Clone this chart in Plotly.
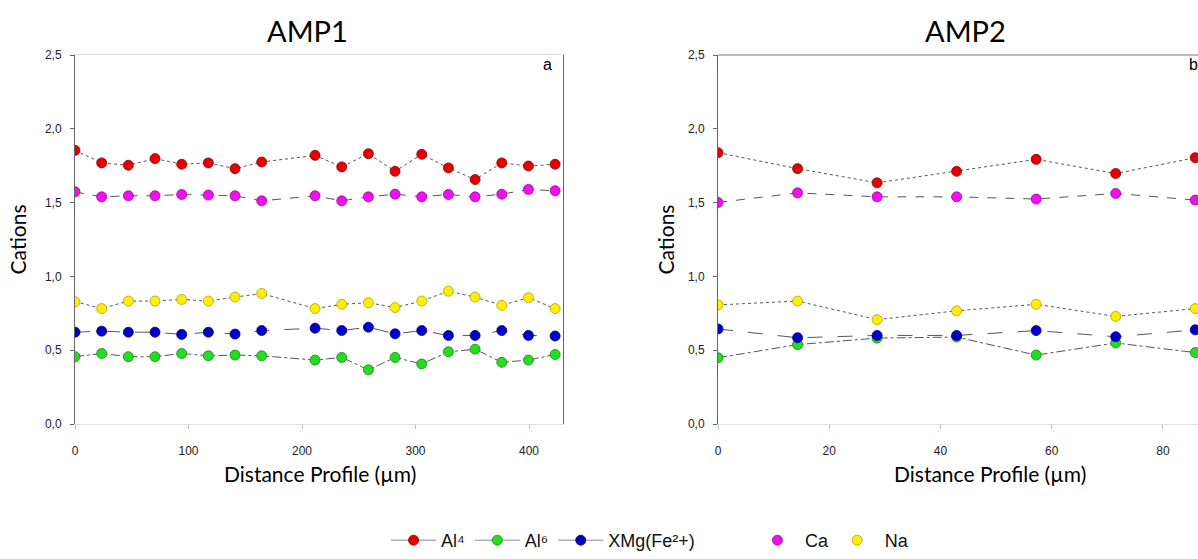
import plotly.graph_objects as go

# AMP1 profile: distance along the traverse (µm) and cation values
amp1_dist = [0, 23.5, 47, 70.5, 94, 117.5, 141, 164.5, 211.5, 235, 258.5, 282,
             305.5, 329, 352.5, 376, 399.5, 423]
amp1_al4 = [1.854, 1.769, 1.753, 1.798, 1.760, 1.769, 1.730, 1.775, 1.820, 1.742,
            1.831, 1.712, 1.827, 1.735, 1.656, 1.769, 1.748, 1.760]
amp1_al6 = [0.456, 0.478, 0.456, 0.456, 0.478, 0.462, 0.467, 0.462, 0.433, 0.451,
            0.367, 0.451, 0.407, 0.489, 0.507, 0.418, 0.433, 0.471]
amp1_xmg = [0.622, 0.629, 0.622, 0.622, 0.607, 0.622, 0.609, 0.633, 0.649, 0.633,
            0.656, 0.611, 0.633, 0.600, 0.600, 0.633, 0.600, 0.596]
amp1_ca = [1.573, 1.539, 1.546, 1.546, 1.555, 1.551, 1.546, 1.512, 1.546, 1.512,
           1.539, 1.557, 1.539, 1.555, 1.539, 1.557, 1.589, 1.580]
amp1_na = [0.829, 0.782, 0.833, 0.833, 0.844, 0.833, 0.860, 0.884, 0.782, 0.811,
           0.822, 0.789, 0.833, 0.900, 0.860, 0.804, 0.856, 0.782]

# AMP2 profile
amp2_dist = [0, 14.3, 28.6, 42.9, 57.2, 71.5, 85.8]
amp2_al4 = [1.838, 1.730, 1.634, 1.712, 1.793, 1.697, 1.804]
amp2_al6 = [0.449, 0.538, 0.582, 0.589, 0.467, 0.549, 0.484]
amp2_xmg = [0.644, 0.584, 0.600, 0.600, 0.633, 0.591, 0.638]
amp2_ca = [1.501, 1.566, 1.539, 1.539, 1.524, 1.562, 1.517]
amp2_na = [0.807, 0.833, 0.707, 0.767, 0.811, 0.729, 0.782]

series_names = ["Al⁴", "Al⁶", "XMg(Fe²+)", "Ca", "Na"]
fill_colors = ["#e60000", "#22dd22", "#0000cc", "#ee11ee", "#ffee00"]
edge_colors = ["#8a0000", "#118811", "#00006e", "#a000a0", "#b0a000"]
dash_styles = ["dot", "dashdot", "longdash", "dash", "dot"]
legend_lines = [True, True, True, False, False]
legend_groups = ["legend", "legend", "legend", "legend3", "legend2"]

y_ticks = [0.0, 0.5, 1.0, 1.5, 2.0, 2.5]
amp1_xticks = [0, 100, 200, 300, 400]
amp2_xticks = [0, 20, 40, 60, 80]

tick_font = dict(family="Liberation Sans, Arial", size=12, color="#222")
label_font = dict(family="Lato, Open Sans", size=21, color="#000")
title_font = dict(family="Lato, Open Sans", size=29, color="#000")
letter_font = dict(family="Liberation Sans, Arial", size=16, color="#000")
legend_font = dict(family="Liberation Sans, Arial", size=18, color="#111")

fig = go.Figure()

panels = [
    ("x", "y", amp1_dist, [amp1_al4, amp1_al6, amp1_xmg, amp1_ca, amp1_na], True),
    ("x2", "y2", amp2_dist, [amp2_al4, amp2_al6, amp2_xmg, amp2_ca, amp2_na], False),
]

for xa, ya, dist, values, show_leg in panels:
    for i, vals in enumerate(values):
        marker = dict(size=10, color=fill_colors[i],
                      line=dict(color=edge_colors[i], width=0.8))
        # connecting line
        fig.add_trace(go.Scatter(
            x=dist, y=vals, xaxis=xa, yaxis=ya, mode="lines",
            line=dict(color="#555555", width=1, dash=dash_styles[i]),
            showlegend=False, hoverinfo="skip"))
        # legend sample with a solid line for the first three series
        if show_leg and legend_lines[i]:
            fig.add_trace(go.Scatter(
                x=[None], y=[None], xaxis=xa, yaxis=ya, mode="lines+markers",
                name=series_names[i], legend=legend_groups[i],
                line=dict(color="#888888", width=1), marker=marker,
                showlegend=True))
        fig.add_trace(go.Scatter(
            x=dist, y=vals, xaxis=xa, yaxis=ya, mode="markers",
            name=series_names[i], legend=legend_groups[i], marker=marker,
            showlegend=show_leg and not legend_lines[i]))

axis_common = dict(showgrid=False, zeroline=False, ticks="outside", ticklen=4,
                   tickfont=tick_font)
legend_common = dict(orientation="h", xanchor="left", y=-0.317, yanchor="middle",
                     font=legend_font, itemwidth=45, bgcolor="rgba(0,0,0,0)")

fig.update_layout(
    width=1198, height=559,
    margin=dict(l=75, r=0, t=55, b=132),
    plot_bgcolor="white", paper_bgcolor="white",
    separators=",.",
    xaxis=dict(domain=[0, 0.4346], range=[0, 430], tickvals=amp1_xticks,
               showline=True, mirror=True, linecolor="#dddddd", linewidth=1,
               tickcolor="#bbbbbb", anchor="y", ticklabelstandoff=12, **axis_common),
    yaxis=dict(domain=[0, 1], range=[0, 2.5], tickvals=y_ticks, tickformat=".1f",
               showline=True, mirror=True, linecolor="#666666", linewidth=1,
               tickcolor="#666666", anchor="x", ticklabelstandoff=6, **axis_common),
    xaxis2=dict(domain=[0.5726, 1], range=[0, 86.3], tickvals=amp2_xticks,
                showline=True, linecolor="#dddddd", linewidth=1,
                tickcolor="#bbbbbb", anchor="y2", ticklabelstandoff=12, **axis_common),
    yaxis2=dict(domain=[0, 1], range=[0, 2.5], tickvals=y_ticks, tickformat=".1f",
                showline=True, linecolor="#666666", linewidth=1,
                tickcolor="#666666", anchor="x2", ticklabelstandoff=6, **axis_common),
    legend=dict(x=0.277, **legend_common),
    legend3=dict(x=0.601, **legend_common),
    legend2=dict(x=0.672, **legend_common),
    shapes=[dict(type="line", xref="x2 domain", yref="y2 domain",
                 x0=0, x1=1, y0=1, y1=1, line=dict(color="#777777", width=1))],
)

annotations = [
    dict(text="AMP1", x=0.207, y=1.067, font=title_font),
    dict(text="AMP2", x=0.793, y=1.067, font=title_font),
    dict(text="Distance Profile (µm)", x=0.218, y=-0.134, font=label_font),
    dict(text="Distance Profile (µm)", x=0.815, y=-0.134, font=label_font),
    dict(text="Cations", x=-0.0508, y=0.5, textangle=-90, font=label_font),
    dict(text="Cations", x=0.5254, y=0.5, textangle=-90, font=label_font),
    dict(text="a", x=0.421, y=0.975, font=letter_font),
    dict(text="b", x=0.996, y=0.975, font=letter_font),
]
for a in annotations:
    fig.add_annotation(xref="paper", yref="paper", showarrow=False,
                       xanchor="center", yanchor="middle", **a)

fig.write_html("out.html")
